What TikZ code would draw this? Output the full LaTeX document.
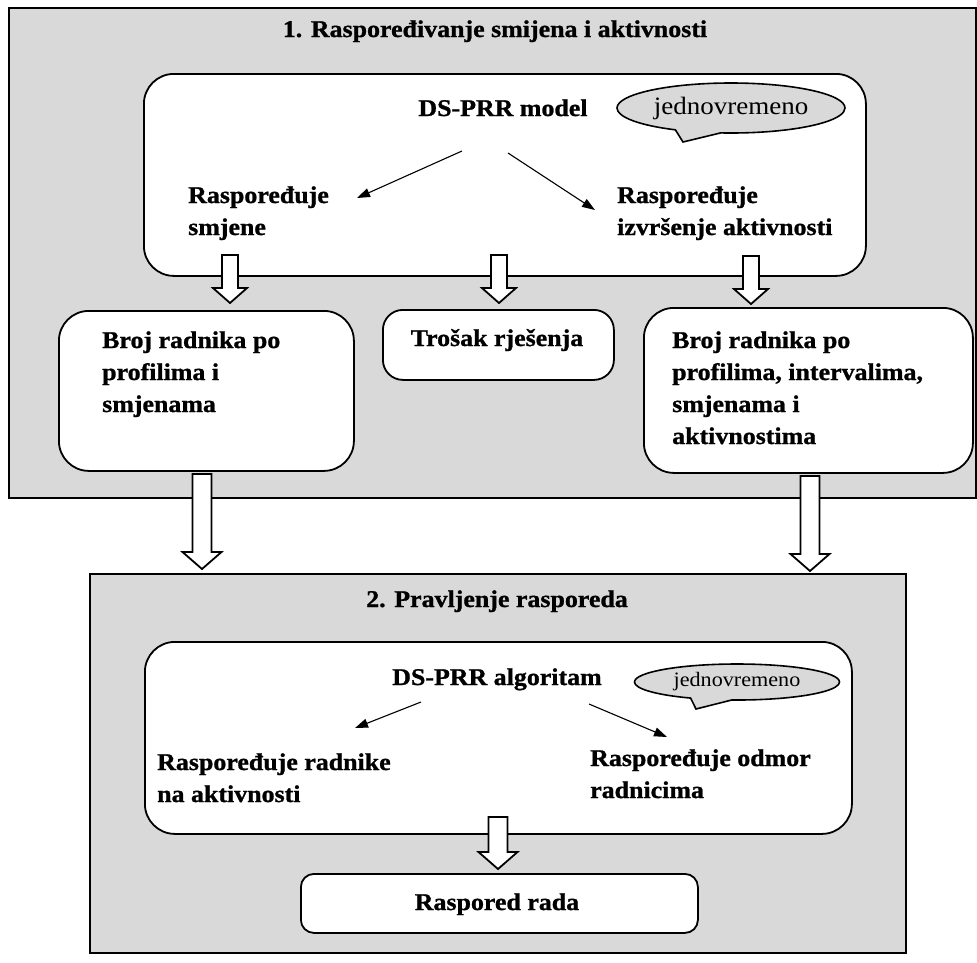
\documentclass[tikz,border=0pt]{standalone}
\usepackage{fontspec}
\setmainfont[FakeStretch=1.08, BoldFeatures={FakeBold=1}]{Liberation Serif}
\usetikzlibrary{calc,arrows.meta,shapes.callouts}
\definecolor{panelgray}{HTML}{D9D9D9}

\tikzset{
  panel/.style={draw, line width=1.6pt, fill=panelgray, inner sep=0pt},
  card/.style={draw, line width=1.8pt, fill=white, rounded corners=30pt, inner sep=0pt},
  smallcard/.style={card, rounded corners=13pt},
  label/.style={font=\fontsize{24}{32}\selectfont\bfseries, inner sep=0pt},
  bubble/.style={ellipse callout, draw, line width=1.6pt, fill=panelgray,
    inner sep=0pt, callout pointer arc=24},
  pointer/.style={line width=1.1pt, -{Triangle[length=13pt,width=9pt]}},
  blockarrow/.style args={#1/#2/#3}{draw, fill=white, line width=1.8pt, line join=miter,
    to path={let \p1=(\tikztostart), \p2=(\tikztotarget) in
      (\x1-#1,\y1) -- (\x1+#1,\y1) -- (\x1+#1,\y2+#3) -- (\x1+#2,\y2+#3)
      -- (\x1,\y2) -- (\x1-#2,\y2+#3) -- (\x1-#1,\y2+#3) -- cycle}},
  thinblock/.style={blockarrow=8pt/17pt/15pt},
  thickblock/.style={blockarrow=9.5pt/19.5pt/17pt}
}

\begin{document}
\begin{tikzpicture}[x=1pt,y=-1pt]
\useasboundingbox (0,0) rectangle (977,962);

% ---------- stage 1: shift and activity scheduling ----------
\node[panel, anchor=north west, minimum width=967pt, minimum height=490pt] (stage1) at (8,7) {};
\node[label, anchor=base] (title1) at (495,37) {1. Raspoređivanje smijena i aktivnosti};

\node[card, anchor=north west, minimum width=722pt, minimum height=202pt] (modelbox) at (143,73) {};
\node[label, anchor=base] (dsmodel) at (503,116) {DS-PRR model};
\node[bubble, minimum width=228pt, minimum height=50pt,
      callout absolute pointer={(683,142)}, font=\fontsize{25}{29}\selectfont] (sim1) at (731,108) {jednovremeno};
\node[label, align=left, anchor=base west] (shifts) at (188,235) {Raspoređuje\\smjene};
\node[label, align=left, anchor=base west] (tasks) at (617,235) {Raspoređuje\\izvršenje aktivnosti};

\coordinate (m1) at (462,151);
\coordinate (m2) at (357,198);
\coordinate (m3) at (508,153);
\coordinate (m4) at (595,210);
\draw[pointer] (m1) -- (m2);
\draw[pointer] (m3) -- (m4);

\node[card, anchor=north west, minimum width=295pt, minimum height=160pt] (counts) at (58,310) {};
\node[label, align=left, anchor=base west] (countstext) at (102,412) {Broj radnika po\\profilima i\\smjenama};

\node[card, rounded corners=20pt, anchor=north west, minimum width=231pt, minimum height=70pt] (cost) at (382,309) {};
\node[label, anchor=base] (costtext) at (497,346) {Trošak rješenja};

\node[card, anchor=north west, minimum width=329pt, minimum height=165pt] (detail) at (643,307) {};
\node[label, align=left, anchor=base west] (detailtext) at (672,444) {Broj radnika po\\profilima, intervalima,\\smjenama i\\aktivnostima};

\coordinate (a1s) at (230,255);  \coordinate (a1e) at (230,303);
\coordinate (a2s) at (499,255);  \coordinate (a2e) at (499,303);
\coordinate (a3s) at (751,256);  \coordinate (a3e) at (751,304);
\draw[thinblock] (a1s) to (a1e);
\draw[thinblock] (a2s) to (a2e);
\draw[thinblock] (a3s) to (a3e);

% ---------- stage 2: building the roster ----------
\node[panel, anchor=north west, minimum width=816pt, minimum height=379pt] (stage2) at (89,573) {};
\node[label, anchor=base] (title2) at (497,607) {2. Pravljenje rasporeda};

\node[card, anchor=north west, minimum width=707pt, minimum height=192pt] (algbox) at (144,641) {};
\node[label, anchor=base] (dsalg) at (497,685) {DS-PRR algoritam};
\node[bubble, minimum width=205pt, minimum height=36pt,
      callout absolute pointer={(696,709)}, font=\fontsize{20.5}{24}\selectfont] (sim2) at (737,682) {jednovremeno};
\node[label, align=left, anchor=base west] (assign) at (157,802) {Raspoređuje radnike\\na aktivnosti};
\node[label, align=left, anchor=base west] (breaks) at (590,798) {Raspoređuje odmor\\radnicima};

\coordinate (g1) at (421,702);
\coordinate (g2) at (355,728);
\coordinate (g3) at (589,704);
\coordinate (g4) at (667,737);
\draw[pointer] (g1) -- (g2);
\draw[pointer] (g3) -- (g4);

\node[smallcard, anchor=north west, minimum width=397pt, minimum height=59pt] (roster) at (300,873) {};
\node[label, anchor=base] (rostertext) at (497,910) {Raspored rada};

\coordinate (r1s) at (498,817);  \coordinate (r1e) at (498,869);
\draw[thickblock] (r1s) to (r1e);

% ---------- hand-over between the stages ----------
\coordinate (b1s) at (202,474);  \coordinate (b1e) at (202,569);
\coordinate (b2s) at (810,476);  \coordinate (b2e) at (810,571);
\draw[thickblock] (b1s) to (b1e);
\draw[thickblock] (b2s) to (b2e);
\end{tikzpicture}
\end{document}
